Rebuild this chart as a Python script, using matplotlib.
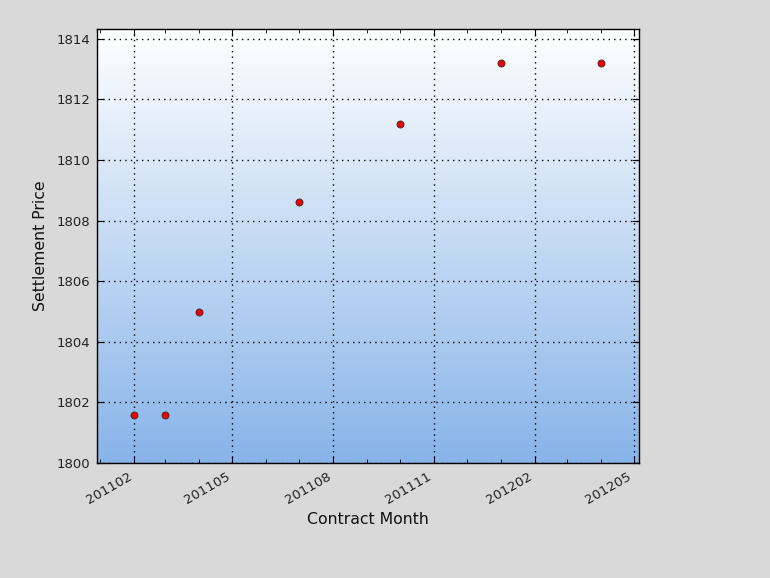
import numpy as np
import pandas as pd
import matplotlib
matplotlib.use('Agg')
import matplotlib.pyplot as plt
import matplotlib.dates as mdates
from matplotlib.colors import LinearSegmentedColormap

# contract months and settlement prices
months = ['201102', '201103', '201104', '201107', '201110', '201201', '201204']
prices = [1801.6, 1801.6, 1805.0, 1808.6, 1811.2, 1813.2, 1813.2]

dates = pd.to_datetime(months, format='%Y%m')

fig = plt.figure(figsize=(7.7, 5.78), dpi=100, facecolor='#d9d9d9')
ax = fig.add_axes([0.126, 0.199, 0.704, 0.751])

x0 = mdates.date2num(dates[0] - pd.Timedelta(days=34))
x1 = mdates.date2num(dates[-1] + pd.Timedelta(days=35))
y0, y1 = 1800, 1814.33

# gradient background, blue at bottom to white at top
cmap = LinearSegmentedColormap.from_list('bg', ['#88b4e9', '#ffffff'])
grad = np.linspace(0, 1, 256).reshape(-1, 1)
ax.imshow(grad, cmap=cmap, aspect='auto', origin='lower',
          extent=[x0, x1, y0, y1], zorder=0)

ax.scatter(mdates.date2num(dates), prices, s=26, color='#ee0000',
           edgecolors='#333333', linewidths=0.6, zorder=5)

ax.set_xlim(x0, x1)
ax.set_ylim(y0, y1)
ax.set_yticks(np.arange(1800, 1815, 2))

ax.xaxis.set_major_locator(mdates.MonthLocator(bymonth=[2, 5, 8, 11]))
ax.xaxis.set_minor_locator(mdates.MonthLocator())
ax.xaxis.set_major_formatter(mdates.DateFormatter('%Y%m'))
plt.setp(ax.get_xticklabels(), rotation=30, ha='right')

ax.tick_params(which='both', direction='in', top=True, right=True,
               labelsize=9.5, labelcolor='#222222')
ax.tick_params(which='major', length=5, pad=5)
ax.tick_params(which='minor', length=3)

ax.grid(color='black', linestyle=(0, (1, 3)), linewidth=1.0)
ax.set_axisbelow(False)
for s in ax.spines.values():
    s.set_linewidth(1.0)

ax.set_xlabel('Contract Month', fontsize=11.3, color='#111111')
ax.set_ylabel('Settlement Price', fontsize=11.3, color='#111111', labelpad=6)

fig.savefig('out.png', dpi=100, facecolor=fig.get_facecolor())
